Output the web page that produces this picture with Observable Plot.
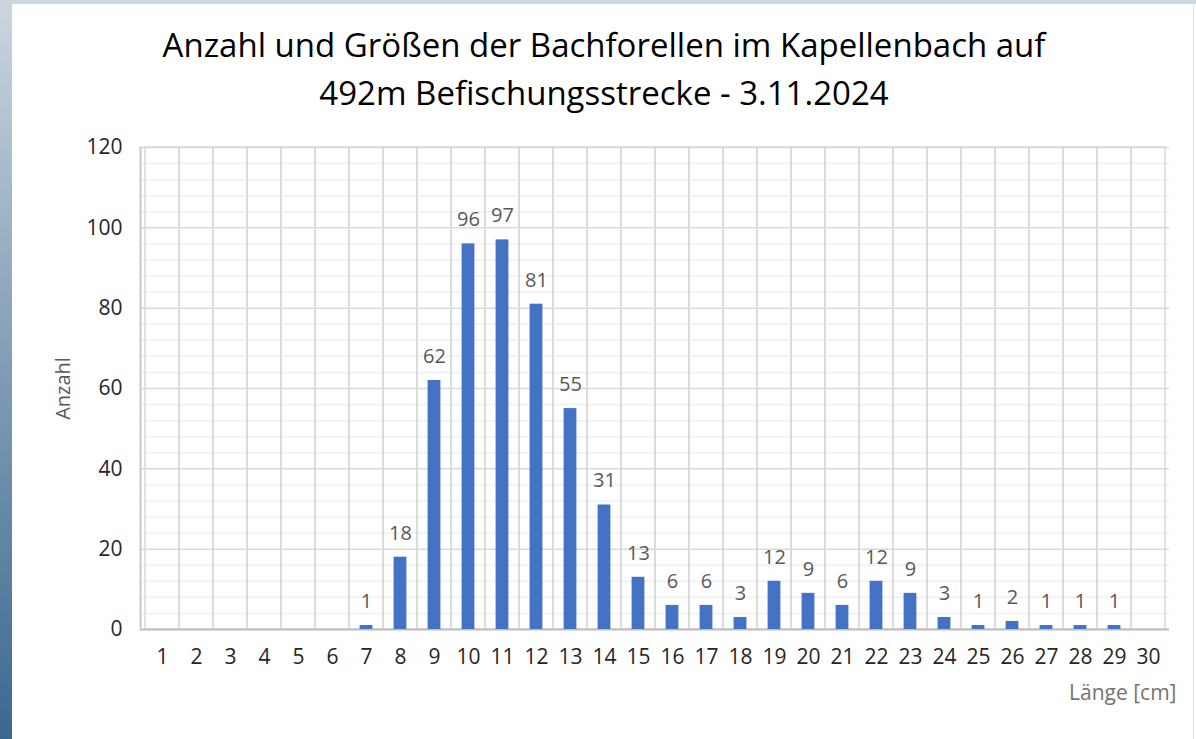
<!DOCTYPE html>
<html>
<head>
<meta charset="utf-8">
<script src="https://cdn.jsdelivr.net/npm/d3@7"></script>
<script src="https://cdn.jsdelivr.net/npm/@observablehq/plot@0.6"></script>
<style>
  html, body { margin: 0; padding: 0; background: #ffffff; width: 1196px; height: 739px; overflow: hidden; }
  #page { position: relative; width: 1196px; height: 739px; font-family: "Open Sans", sans-serif; }
  #leftstrip { position: absolute; left: 0; top: 0; width: 12px; height: 739px; background: linear-gradient(#ccd6df, #8fa7bd 40%, #3b6890); }
  #topstrip { position: absolute; left: 0; top: 0; width: 1196px; height: 4px; background: #cdd6de; }
  #rightline { position: absolute; left: 1193px; top: 4px; width: 1px; height: 735px; background: #e3e3e3; }
  #title { position: absolute; left: 12px; width: 1184px; top: 21px; text-align: center; font-size: 33px; line-height: 48px; color: #000; }
  #chart { position: absolute; left: 0; top: 120px; }
</style>
</head>
<body>
<div id="page">
  <div id="leftstrip"></div>
  <div id="topstrip"></div>
  <div id="rightline"></div>
  <div id="title">Anzahl und Größen der Bachforellen im Kapellenbach auf<br>492m Befischungsstrecke - 3.11.2024</div>
  <div id="chart"></div>
</div>
<script>
const lengths = d3.range(1, 31);
const counts = [null, null, null, null, null, null, 1, 18, 62, 96, 97, 81, 55, 31, 13, 6, 6, 3, 12, 9, 6, 12, 9, 3, 1, 2, 1, 1, 1, null];
const yTicks = [0, 20, 40, 60, 80, 100, 120];
const yMinor = d3.range(0, 121, 4).filter(v => v % 20 !== 0);
const xLabel = "Länge [cm]";
const yLabel = "Anzahl";

const data = lengths.map((l, i) => ({length: l, count: counts[i]}));
const bars = data.filter(d => d.count != null);

const chart = Plot.plot({
  width: 1196,
  height: 619,
  marginLeft: 140,
  marginRight: 27,
  marginTop: 27,
  marginBottom: 110,
  style: {fontFamily: "Open Sans, sans-serif", background: "transparent"},
  x: {type: "band", domain: lengths, padding: 0},
  y: {domain: [0, 120]},
  marks: [
    Plot.gridY(yMinor, {stroke: "#f0f0f0", strokeOpacity: 1, strokeWidth: 1.5}),
    Plot.gridY(yTicks, {stroke: "#d9d9d9", strokeOpacity: 1, strokeWidth: 1.5}),
    Plot.cell(lengths, {x: d => d, fill: "none", stroke: "#d9d9d9", strokeWidth: 1.5}),
    Plot.ruleY([0], {stroke: "#bfbfbf", strokeWidth: 2}),
    Plot.frame({anchor: "left", stroke: "#c8c8c8", strokeWidth: 2}),
    Plot.barY(bars, {x: "length", y: "count", fill: "#4472C4", insetLeft: 10.6, insetRight: 10.6}),
    Plot.text(bars, {x: "length", y: "count", text: d => String(d.count), dy: -24, fontSize: 20, fill: "#595959"}),
    Plot.axisY(yTicks, {tickSize: 0, tickPadding: 18, fontSize: 21, color: "#262626", label: null}),
    Plot.axisX(lengths, {tickSize: 0, tickPadding: 20, fontSize: 21, color: "#262626", label: null}),
    Plot.text([xLabel], {frameAnchor: "bottom-right", textAnchor: "end", dx: 7, dy: 70, fontSize: 21, fill: "#737373"}),
    Plot.text([yLabel], {frameAnchor: "left", textAnchor: "middle", rotate: -90, dx: -77, fontSize: 20, fill: "#595959"})
  ]
});
document.getElementById("chart").appendChild(chart);
</script>
</body>
</html>
